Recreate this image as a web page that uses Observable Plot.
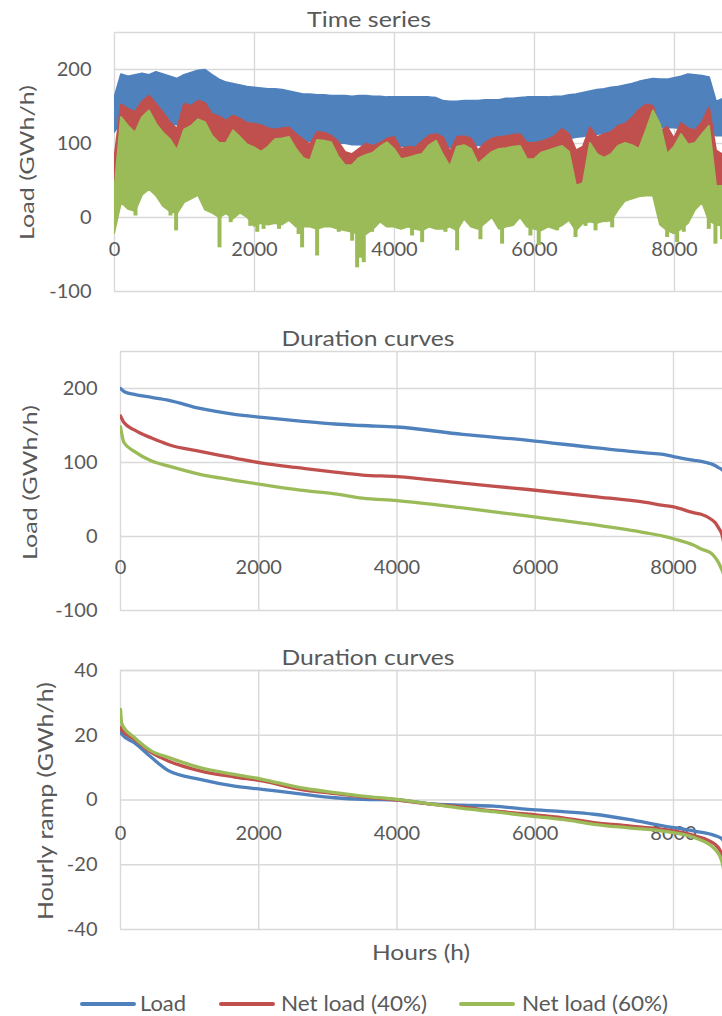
<!DOCTYPE html>
<html><head><meta charset="utf-8">
<script src="https://cdn.jsdelivr.net/npm/d3@7"></script>
<script src="https://cdn.jsdelivr.net/npm/@observablehq/plot@0.6"></script>
<style>
body{margin:0;background:#fff;}
#wrap{position:relative;width:722px;height:1016px;overflow:hidden;font-family:Lato,sans-serif;color:#595959;}
#wrap svg{position:absolute;left:0;}
</style></head><body><div id="wrap"></div>
<script>
// ---------- data ----------
const seriesNames = ["Load", "Net load (40%)", "Net load (60%)"];
const seriesColors = ["#4f81bd", "#c0504d", "#9bbb59"];
const xTicks = [0, 2000, 4000, 6000, 8000];
const loadTicks = [-100, 0, 100, 200];
const rampTicks = [-40, -20, 0, 20, 40];

// time series (envelope of hourly values, read every 100 h)
const tsHours = [0,100,200,300,400,500,600,700,800,900,
1000,1100,1200,1300,1400,1500,1600,1700,1800,1900,
2000,2100,2200,2300,2400,2500,2600,2700,2800,2900,
3000,3100,3200,3300,3400,3500,3600,3700,3800,3900,
4000,4100,4200,4300,4400,4500,4600,4700,4800,4900,
5000,5100,5200,5300,5400,5500,5600,5700,5800,5900,
6000,6100,6200,6300,6400,6500,6600,6700,6800,6900,
7000,7100,7200,7300,7400,7500,7600,7700,7800,7900,
8000,8100,8200,8300,8400,8500,8600,8700,8760];
const tsLoadHi = [160,193,190,192,194,192,196,193,190,187,
192,195,198,199,192,186,182,180,178,176,
175,174,173,173,172,170,168,166,166,165,
165,164,164,164,163,164,164,163,163,162,
162,162,162,162,162,162,161,157,156,156,
157,157,157,158,158,158,160,160,161,162,
162,162,162,163,163,165,166,168,170,172,
173,175,176,178,180,183,185,187,186,186,
188,190,193,192,191,189,156,160,165];
const tsLoadLo = [115,128,130,128,130,130,128,128,126,125,
125,125,125,122,120,118,115,113,112,110,
110,108,108,106,106,105,104,103,102,102,
101,100,100,100,98,98,97,96,96,95,
97,96,96,96,96,96,96,95,94,95,
96,96,97,97,98,98,99,99,100,101,
102,102,103,104,105,106,108,109,111,112,
113,114,116,117,118,119,120,121,121,121,
121,120,119,118,117,116,110,110,110];
const tsNet40Hi = [75,152,146,142,156,164,153,141,128,119,
153,150,157,154,139,136,130,137,133,127,
126,124,120,118,120,121,112,105,98,115,
114,110,102,88,85,92,99,96,100,106,
108,92,95,94,102,110,112,108,88,108,
109,106,90,100,106,108,109,111,112,100,
100,102,105,110,119,112,90,95,121,108,
112,115,123,126,134,145,152,150,115,122,
106,127,120,117,128,148,90,84,95];
const tsNet40Lo = [33,45,48,45,50,52,50,45,42,42,
48,50,50,48,45,44,42,44,44,42,
40,40,42,42,42,40,38,36,35,38,
40,38,36,34,34,35,36,38,38,38,
38,36,36,36,38,38,38,36,34,36,
38,38,35,36,38,38,38,38,38,36,
35,36,37,38,38,38,40,40,40,38,
38,38,40,40,42,42,42,42,38,38,
38,40,40,40,40,40,38,38,40];
const tsNet60Hi = [30,135,123,114,135,144,126,114,105,90,
118,123,132,128,110,100,100,117,108,98,
94,88,95,105,106,108,92,80,76,104,
103,101,82,70,70,80,84,87,95,101,
92,78,80,83,85,97,103,84,68,95,
97,92,72,80,88,92,93,95,96,78,
78,87,90,93,96,88,42,46,100,85,
80,85,96,100,97,92,117,144,125,85,
95,112,98,100,112,123,42,42,60];
// lower edge of the solid green mass
const tsNet60Lo = [-22,20,11,8,30,38,29,15,8,5,
20,25,30,10,6,0,5,-2,6,0,
-12,-8,-10,-8,-10,-4,-13,-13,-13,-16,
-13,-13,-16,-18,-20,-23,-23,-16,-6,-13,
-13,-16,-13,-16,-18,-13,-16,-16,-13,-18,
-2,-13,-16,-8,0,-16,-13,-11,0,-13,
-16,-18,-13,-16,-11,-4,-18,-8,-6,-8,
-5,-5,10,22,25,28,29,29,-10,-18,
-22,-16,-8,10,20,-5,-10,-12,-10];
// deep single-day dips of net load (60%): hour, minimum
const dipHours = [300,800,880,1380,1500,1660,1800,1940,2040,2130,2350,2630,2680,2895,3060,3204,3395,3466,3520,3561,3680,3960,4061,4251,4395,4514,4633,4728,4895,5100,5228,5537,5680,5942,6061,6180,6323,6586,6729,6872,7014,7110,7824,7895,7960,8038,8133,8490,8585,8680];
const dipValues = [2,2,-18,6,-41,-7,6,-12,-20,-16,-16,-23,-41,-52,-7,-20,-32,-68,-55,-61,-20,-10,-16,-25,-34,-7,-16,-20,-45,-12,-30,-36,-7,-25,-38,-7,-18,-27,-12,-18,-7,-14,-7,-27,-20,-34,-20,-16,-36,-30];

// load duration curves
const durHours = [0,50,200,450,700,1150,1650,2050,2600,3100,3500,4000,4950,5900,6850,7600,7850,8000,8300,8400,8550,8600,8650,8700,8760];
const durLoad  = [200,196,192,188,184,173,165,161,156,152,150,148,138,130,120,113,111,108,103,101.5,98,96,93,90.5,84];
const durNet40 = [163,154,144,133,124,115,106,99,92.6,87,83,81,72,63.5,54,46,42,40,32,30,23,19,12,3,-25];
const durNet60 = [148,127,115,102,95,84,76,70,62.6,57.7,52,48.6,38.7,27.5,16,5,0.5,-3,-12,-17,-23,-28,-35,-45,-60];

// hourly ramp duration curves
const rampHours = [0,20,200,450,700,1150,1650,2050,2600,3100,3500,4000,4450,4950,5400,5900,6400,6850,7350,7850,8300,8600,8700,8760];
const rampLoad  = [21,20.3,17.7,13.1,9,6.4,4.3,3.3,1.9,0.7,0.2,0,-1.1,-1.6,-1.9,-2.9,-3.6,-4.4,-6,-8,-9.6,-11,-12,-14];
const rampNet40 = [22.4,21.5,18.8,14.6,12,9,7.1,5.9,3.3,2,1,0,-1.2,-2.2,-3.4,-4.4,-5.5,-7,-8,-9.1,-11,-13.7,-16.8,-22];
const rampNet60 = [28,23.4,19.3,15.1,13.1,10,7.9,6.4,3.8,2.3,1.2,0.2,-1.1,-2.6,-3.6,-4.9,-6,-7.5,-8.6,-9.6,-11.6,-15.2,-18.9,-26];

// ---------- build ----------
const wrap = document.getElementById("wrap");
const GRID = "#d9d9d9";

function panel({top, height, mt, mb, ml, xmax, ydom, yTicks, xdy, marks}) {
  const svg = Plot.plot({
    width: 722, height, marginTop: mt, marginBottom: mb, marginLeft: ml, marginRight: 0,
    x: {domain: [0, xmax], axis: null},
    y: {domain: ydom, axis: null},
    style: {fontFamily: "Lato, sans-serif", fontSize: "20px", color: "#595959", background: "transparent", overflow: "visible"},
    marks: [
      Plot.ruleX(xTicks, {x: d => d, stroke: GRID, strokeWidth: 1.4}),
      Plot.ruleY([...yTicks, ydom[1]], {y: d => d, stroke: GRID, strokeWidth: 1.4}),
      Plot.text(yTicks, {y: d => d, text: d => String(d), frameAnchor: "left", textAnchor: "end", dx: -23, lineAnchor: "middle", fill: "#595959"}),
      Plot.text(xTicks, {x: d => d, y: d => 0, text: d => String(d), dy: xdy, lineAnchor: "middle", fill: "#595959"}),
      ...marks
    ]
  });
  svg.style.top = top + "px";
  wrap.appendChild(svg);
}

const band = (lo, hi) => tsHours.map((h, i) => ({h, lo: lo[i], hi: hi[i]}));
const tsBands = [[tsLoadLo, tsLoadHi], [tsNet40Lo, tsNet40Hi], [tsNet60Lo, tsNet60Hi]];
const dips = dipHours.map((h, i) => ({h, v: dipValues[i]}));
panel({
  top: 0, height: 300, mt: 32, mb: 9, ml: 114, xmax: 8686, ydom: [-100, 250], yTicks: loadTicks, xdy: 32,
  marks: [
    ...tsBands.map(([lo, hi], k) =>
      Plot.areaY(band(lo, hi), {x: "h", y1: "lo", y2: "hi", fill: seriesColors[k], stroke: seriesColors[k], strokeWidth: 2, strokeLinejoin: "round", clip: true})),
    Plot.ruleX(dips, {x: "h", y1: d => 25, y2: "v", stroke: seriesColors[2], strokeWidth: 4, clip: true})
  ]
});

const curve = (hours, vals) => hours.map((h, i) => ({h, v: vals[i]}));
panel({
  top: 320, height: 300, mt: 31, mb: 10, ml: 120, xmax: 8709, ydom: [-100, 250], yTicks: loadTicks, xdy: 31.5,
  marks: [durLoad, durNet40, durNet60].map((vals, k) =>
    Plot.line(curve(durHours, vals), {x: "h", y: "v", stroke: seriesColors[k], strokeWidth: 3.3, curve: "monotone-x", clip: true}))
});
panel({
  top: 640, height: 300, mt: 30, mb: 11, ml: 120, xmax: 8709, ydom: [-40, 40], yTicks: rampTicks, xdy: 33.5,
  marks: [rampLoad, rampNet40, rampNet60].map((vals, k) =>
    Plot.line(curve(rampHours, vals), {x: "h", y: "v", stroke: seriesColors[k], strokeWidth: 3.3, curve: "monotone-x", clip: true}))
});

// ---------- titles, axis titles, legend ----------
const NS = "http://www.w3.org/2000/svg";
const ov = document.createElementNS(NS, "svg");
ov.setAttribute("width", 722); ov.setAttribute("height", 1016);
ov.style.top = "0px"; ov.style.fontFamily = "Lato, sans-serif"; ov.style.pointerEvents = "none";
wrap.appendChild(ov);
function txt(s, {x, y, size = 21, len, anchor = "middle", rot = false}) {
  const t = document.createElementNS(NS, "text");
  t.textContent = s;
  t.setAttribute("font-size", size);
  t.setAttribute("fill", "#595959");
  t.setAttribute("text-anchor", anchor);
  if (len) { t.setAttribute("textLength", len); t.setAttribute("lengthAdjust", "spacingAndGlyphs"); }
  t.setAttribute("transform", `translate(${x},${y})` + (rot ? " rotate(-90)" : ""));
  ov.appendChild(t);
}
txt("Time series", {x: 369, y: 27, len: 124});
txt("Duration curves", {x: 368, y: 346, len: 173});
txt("Duration curves", {x: 368, y: 665, len: 173});
txt("Load (GWh/h)", {x: 34, y: 162.5, size: 20, len: 155, rot: true});
txt("Load (GWh/h)", {x: 37, y: 482.5, size: 20, len: 155, rot: true});
txt("Hourly ramp (GWh/h)", {x: 53, y: 801, size: 22, len: 238, rot: true});
txt("Hours (h)", {x: 421, y: 960, len: 98});
const legX = [[82, 140, 46], [221, 281, 146], [461, 522, 146]];
seriesNames.forEach((name, k) => {
  const [lx, tx, len] = legX[k];
  const l = document.createElementNS(NS, "line");
  l.setAttribute("x1", lx); l.setAttribute("x2", lx + 52);
  l.setAttribute("y1", 1004); l.setAttribute("y2", 1004);
  l.setAttribute("stroke", seriesColors[k]); l.setAttribute("stroke-width", 4); l.setAttribute("stroke-linecap", "round");
  ov.appendChild(l);
  txt(name, {x: tx, y: 1011, len, anchor: "start"});
});
</script></body></html>
